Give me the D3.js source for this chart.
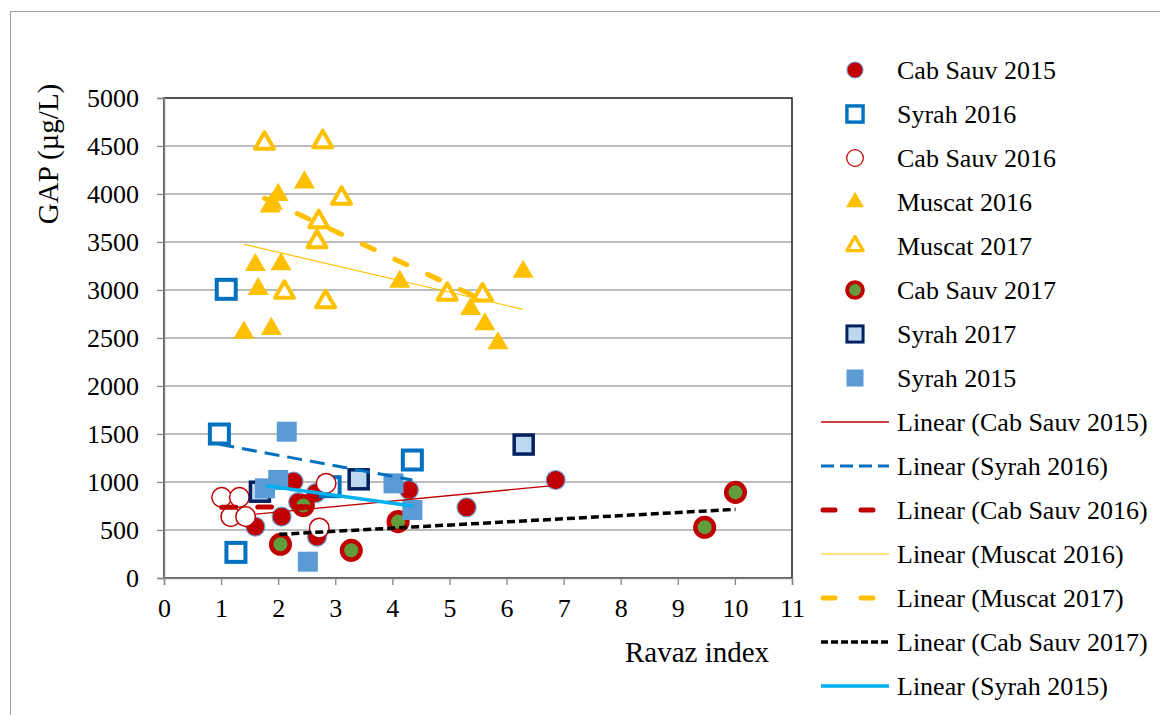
<!DOCTYPE html>
<html lang="en">
<head>
<meta charset="UTF-8">
<title>GAP vs Ravaz index</title>
<script src="https://d3js.org/d3.v7.min.js"></script>
<style>
    body { margin: 0; background: #fff; overflow: hidden; }
    text { font-family: "Liberation Serif", "Times New Roman", serif; fill: #000; }
    .grid line { stroke: #a6a6a6; stroke-width: 1.3px; }
</style>
</head>
<body>
<div id="chart"></div>
<script>
// series, in the order the chart draws them: [Ravaz index, GAP µg/L]
const cabSauv2015 = [[1.60, 535], [2.06, 639], [2.27, 1005], [2.35, 790], [2.66, 885], [2.68, 430], [4.29, 917], [5.30, 736], [6.86, 1021]];
const syrah2016 = [[1.09, 3007], [0.97, 1500], [1.26, 267], [4.35, 1229], [2.91, 951]];
const cabSauv2016 = [[1.01, 840], [1.32, 840], [1.17, 639], [1.43, 639], [2.84, 986], [2.72, 520]];
const muscat2016 = [[2.46, 4120], [2.00, 3990], [1.86, 3870], [1.90, 3900], [1.60, 3260], [2.05, 3270], [1.65, 3010],
                    [4.13, 3086], [6.29, 3190], [5.37, 2802], [5.62, 2643], [5.85, 2445], [1.40, 2555], [1.88, 2594]];
const muscat2017 = [[1.76, 4528], [2.78, 4545], [3.11, 3955], [2.71, 3712], [2.68, 3503], [2.11, 2976], [2.83, 2878], [4.96, 2955], [5.58, 2948]];
const cabSauv2017 = [[2.04, 351], [2.44, 755], [3.28, 288], [4.10, 587], [9.47, 528], [10.01, 892]];
const syrah2017 = [[1.68, 899], [3.41, 1028], [6.30, 1390]];
const syrah2015 = [[2.15, 1524], [2.00, 1021], [1.77, 934], [4.02, 986], [4.35, 708], [2.52, 170]];

// linear trend lines: [x0, y0, x1, y1]
const trendCabSauv2015 = [1.61, 665, 6.86, 965];
const trendSyrah2016 = [0.97, 1392, 4.35, 1021];
const trendCabSauv2016 = [1.01, 736, 2.84, 745];
const trendMuscat2016 = [1.40, 3476, 6.29, 2799];
const trendMuscat2017 = [1.76, 3955, 5.58, 2896];
const trendCabSauv2017 = [2.02, 455, 10.01, 715];
const trendSyrah2015 = [1.79, 962, 4.35, 750];

const xTicks = d3.range(0, 12, 1);
const yTicks = d3.range(0, 5001, 500);

const W = 1160, H = 715;
const serif = '"Liberation Serif", "Times New Roman", serif';
const svg = d3.select("#chart").append("svg").attr("width", W).attr("height", H);

// outer chart frame
svg.append("rect").attr("x", 10.5).attr("y", 11.5).attr("width", W).attr("height", H)
    .attr("fill", "none").attr("stroke", "#a0a0a0").attr("stroke-width", 1);

const x = d3.scaleLinear().domain([0, 11]).range([164, 792]);
const y = d3.scaleLinear().domain([0, 5000]).range([578, 98]);

// gridlines
svg.append("g").attr("class", "grid")
    .selectAll("line").data(yTicks.filter(d => d > 0 && d < 5000)).enter().append("line")
    .attr("x1", x(0)).attr("x2", x(11))
    .attr("y1", d => y(d)).attr("y2", d => y(d));

// plot frame
svg.append("rect").attr("x", x(0)).attr("y", y(5000))
    .attr("width", x(11) - x(0)).attr("height", y(0) - y(5000))
    .attr("fill", "none").attr("stroke", "#1a1a1a").attr("stroke-width", 1.5);

// axes
const yAxis = svg.append("g").attr("transform", "translate(" + x(0) + ",0)")
    .call(d3.axisLeft(y).tickValues(yTicks).tickSize(7).tickPadding(18).tickFormat(d3.format("d")));
const xAxis = svg.append("g").attr("transform", "translate(0," + y(0) + ")")
    .call(d3.axisBottom(x).tickValues(xTicks).tickSize(7).tickPadding(14).tickFormat(d3.format("d")));
[yAxis, xAxis].forEach(a => {
    a.attr("font-family", serif);
    a.select(".domain").attr("stroke", "#868686").attr("stroke-width", 1.5);
    a.selectAll(".tick line").attr("stroke", "#868686").attr("stroke-width", 1.3);
    a.selectAll("text").attr("font-size", 26).attr("fill", "#000").style("font-family", serif);
});
xAxis.selectAll("text").attr("dy", "0.71em");

svg.append("text").attr("x", 697).attr("y", 652).attr("text-anchor", "middle")
    .attr("dominant-baseline", "central").attr("font-size", 29).text("Ravaz index");
svg.append("text").attr("transform", "translate(48,154) rotate(-90)").attr("text-anchor", "middle")
    .attr("dominant-baseline", "central").attr("font-size", 29).text("GAP (µg/L)");

// marker styles
const styles = [
    {name: "Cab Sauv 2015", data: cabSauv2015, shape: "circle", size: 9.5, fill: "#c00000", stroke: "#6fa3d8", sw: 1.2},
    {name: "Syrah 2016", data: syrah2016, shape: "square", size: 19, fill: "#fff", stroke: "#0070c0", sw: 4},
    {name: "Cab Sauv 2016", data: cabSauv2016, shape: "circle", size: 9.8, fill: "#fff", stroke: "#c00000", sw: 1.5},
    {name: "Muscat 2016", data: muscat2016, shape: "triangle", size: 21, fill: "#ffc000", stroke: "none", sw: 0},
    {name: "Muscat 2017", data: muscat2017, shape: "triangle", size: 19, fill: "#fff", stroke: "#ffc000", sw: 4},
    {name: "Cab Sauv 2017", data: cabSauv2017, shape: "circle", size: 9.3, fill: "#629c3c", stroke: "#c00000", sw: 4.5},
    {name: "Syrah 2017", data: syrah2017, shape: "square", size: 19, fill: "#bdd7ee", stroke: "#002060", sw: 3.5},
    {name: "Syrah 2015", data: syrah2015, shape: "square", size: 20, fill: "#5b9bd5", stroke: "none", sw: 0}
];

const trends = [
    {name: "Linear (Cab Sauv 2015)", seg: trendCabSauv2015, color: "#c00000", sw: 1.3, dash: null, cap: "butt"},
    {name: "Linear (Syrah 2016)", seg: trendSyrah2016, color: "#0070c0", sw: 3, dash: "15,8", cap: "butt"},
    {name: "Linear (Cab Sauv 2016)", seg: trendCabSauv2016, color: "#c00000", sw: 5, dash: "14,22", cap: "round"},
    {name: "Linear (Muscat 2016)", seg: trendMuscat2016, color: "#ffc000", sw: 1.2, dash: null, cap: "butt"},
    {name: "Linear (Muscat 2017)", seg: trendMuscat2017, color: "#ffc000", sw: 5, dash: "13,23", cap: "round"},
    {name: "Linear (Cab Sauv 2017)", seg: trendCabSauv2017, color: "#000", sw: 3.5, dash: "8,4", cap: "butt"},
    {name: "Linear (Syrah 2015)", seg: trendSyrah2015, color: "#00b0f0", sw: 3.5, dash: null, cap: "butt"}
];

function drawMarker(g, s, cx, cy, k) {
    const sz = s.size * k;
    let m;
    if (s.shape === "circle") {
        m = g.append("circle").attr("cx", cx).attr("cy", cy).attr("r", sz);
    } else if (s.shape === "square") {
        m = g.append("rect").attr("x", cx - sz / 2).attr("y", cy - sz / 2).attr("width", sz).attr("height", sz);
    } else {
        const h = sz * Math.sqrt(3) / 2;
        m = g.append("path")
            .attr("d", "M" + cx + "," + (cy - h * 2 / 3) + "L" + (cx + sz / 2) + "," + (cy + h / 3) + "L" + (cx - sz / 2) + "," + (cy + h / 3) + "Z")
            .attr("stroke-linejoin", "round");
    }
    m.attr("fill", s.fill).attr("stroke", s.stroke).attr("stroke-width", s.sw * (k < 1 ? 0.85 : 1));
}

// markers
const markG = svg.append("g");
styles.forEach(s => {
    const g = markG.append("g");
    s.data.forEach(d => drawMarker(g, s, x(d[0]), y(d[1]), 1));
});

// trend lines on top
const trendG = svg.append("g");
trends.forEach(t => {
    const l = trendG.append("line")
        .attr("x1", x(t.seg[0])).attr("y1", y(t.seg[1]))
        .attr("x2", x(t.seg[2])).attr("y2", y(t.seg[3]))
        .attr("stroke", t.color).attr("stroke-width", t.sw).attr("stroke-linecap", t.cap);
    if (t.dash) l.attr("stroke-dasharray", t.dash);
});

// legend
const legG = svg.append("g");
const legY0 = 70, legStep = 44;
styles.forEach((s, i) => {
    const yy = legY0 + i * legStep;
    drawMarker(legG, s, 855, yy, 0.85);
    legG.append("text").attr("x", 897).attr("y", yy).attr("dominant-baseline", "central")
        .attr("font-size", 26).text(s.name);
});
trends.forEach((t, i) => {
    const yy = legY0 + (styles.length + i) * legStep;
    const l = legG.append("line").attr("x1", t.cap === "round" ? 823 : 821).attr("x2", t.cap === "round" ? 887 : 889)
        .attr("y1", yy).attr("y2", yy)
        .attr("stroke", t.color).attr("stroke-width", t.sw).attr("stroke-linecap", t.cap);
    if (t.dash) l.attr("stroke-dasharray", t.name.indexOf("Syrah") >= 0 ? "13,6" : (t.cap === "round" ? "12,26" : "7,3"));
    legG.append("text").attr("x", 897).attr("y", yy).attr("dominant-baseline", "central")
        .attr("font-size", 26).text(t.name);
});
</script>
</body>
</html>
